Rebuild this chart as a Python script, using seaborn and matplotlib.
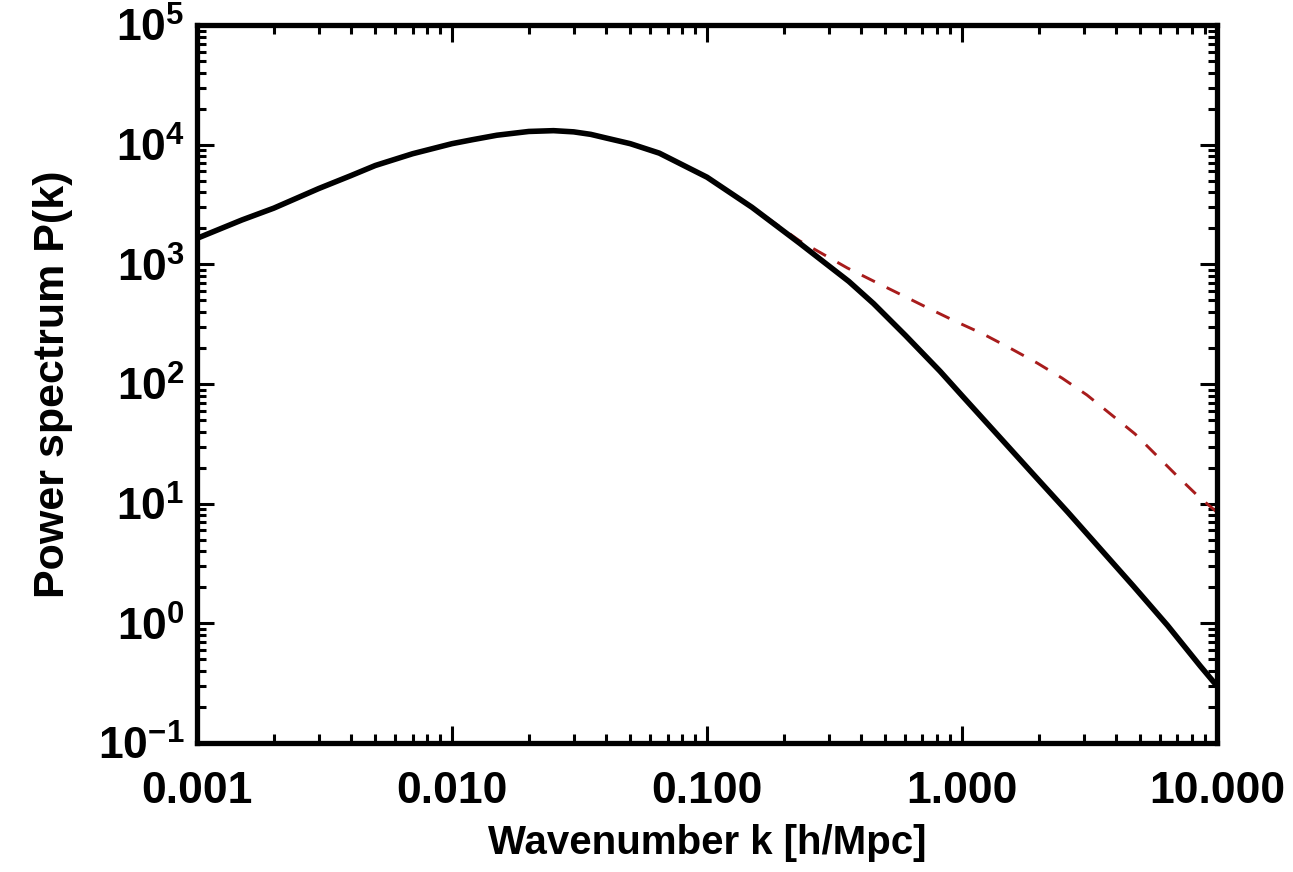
import numpy as np
import pandas as pd
import matplotlib
matplotlib.use("Agg")
import matplotlib.pyplot as plt
import matplotlib.ticker as mticker
import seaborn as sns

# ---- data (k in h/Mpc, P(k)) ----
k_linear = [0.001, 0.0015, 0.002, 0.003, 0.004, 0.005, 0.007, 0.01, 0.012, 0.015,
            0.02, 0.025, 0.03, 0.035, 0.04, 0.05, 0.065, 0.08, 0.1, 0.15,
            0.23, 0.36, 0.45, 0.6, 0.82, 1.0, 1.4, 1.9, 2.6, 3.5,
            4.7, 6.4, 8.6, 10.0]
p_linear = [1650, 2350, 2950, 4300, 5500, 6700, 8400, 10200, 11000, 12000,
            12900, 13100, 12800, 12200, 11400, 10200, 8500, 6800, 5350, 3000,
            1510, 720, 470, 255, 128, 80, 36.3, 17.7, 8.5, 4.16,
            2.05, 0.96, 0.44, 0.30]

k_nonlinear = [0.001, 0.0015, 0.002, 0.003, 0.004, 0.005, 0.007, 0.01, 0.012, 0.015,
               0.02, 0.025, 0.03, 0.035, 0.04, 0.05, 0.065, 0.08, 0.1, 0.15,
               0.23, 0.355, 0.457, 0.58, 0.735, 0.94, 1.21, 1.54, 1.97, 2.47,
               3.09, 3.87, 4.77, 5.82, 6.97, 8.49, 10.0]
p_nonlinear = [1650, 2350, 2950, 4300, 5500, 6700, 8400, 10200, 11000, 12000,
               12900, 13100, 12800, 12200, 11400, 10200, 8500, 6800, 5350, 3020,
               1580, 933, 713, 555, 432, 335, 262, 200, 150, 112,
               81, 55, 38.3, 25.1, 17.1, 11.4, 8.5]

x_ticks = [0.001, 0.01, 0.1, 1.0, 10.0]
x_tick_labels = ["0.001", "0.010", "0.100", "1.000", "10.000"]
y_ticks = [1e-1, 1e0, 1e1, 1e2, 1e3, 1e4, 1e5]
y_tick_labels = [r"$\mathregular{10^{-1}}$", r"$\mathregular{10^{0}}$", r"$\mathregular{10^{1}}$",
                 r"$\mathregular{10^{2}}$", r"$\mathregular{10^{3}}$", r"$\mathregular{10^{4}}$",
                 r"$\mathregular{10^{5}}$"]

sns.set_theme(style="white")
plt.rcParams["font.family"] = ["Liberation Sans", "DejaVu Sans"]
plt.rcParams["font.weight"] = "bold"
plt.rcParams["text.color"] = "black"
plt.rcParams["axes.labelcolor"] = "black"
plt.rcParams["xtick.color"] = "black"
plt.rcParams["ytick.color"] = "black"
plt.rcParams["mathtext.fontset"] = "custom"
plt.rcParams["mathtext.rm"] = "Liberation Sans:bold"
plt.rcParams["mathtext.it"] = "Liberation Sans:bold"
plt.rcParams["mathtext.bf"] = "Liberation Sans:bold"

df_lin = pd.DataFrame({"k": k_linear, "P": p_linear})
df_nl = pd.DataFrame({"k": k_nonlinear, "P": p_nonlinear})

fig = plt.figure(figsize=(12.93, 8.72), dpi=100)
ax = fig.add_axes([0.1524, 0.1479, 0.7888, 0.8234])

sns.lineplot(data=df_nl, x="k", y="P", ax=ax, color="#a81c1c", lw=2.1,
             linestyle=(0, (5, 4.5)), estimator=None, sort=False)
sns.lineplot(data=df_lin, x="k", y="P", ax=ax, color="black", lw=4.0,
             estimator=None, sort=False)

ax.set_xscale("log")
ax.set_yscale("log")
ax.set_xlim(0.001, 10.0)
ax.set_ylim(1e-1, 1e5)

ax.set_xticks(x_ticks)
ax.set_xticklabels(x_tick_labels)
ax.set_yticks(y_ticks)
ax.set_yticklabels(y_tick_labels)
ax.xaxis.set_minor_locator(mticker.LogLocator(base=10, subs=np.arange(2, 10), numticks=20))
ax.yaxis.set_minor_locator(mticker.LogLocator(base=10, subs=np.arange(2, 10), numticks=20))
ax.xaxis.set_minor_formatter(mticker.NullFormatter())
ax.yaxis.set_minor_formatter(mticker.NullFormatter())

ax.tick_params(which="both", direction="in", top=True, right=True, bottom=True, left=True,
               color="black", width=2.2, labelcolor="black")
ax.tick_params(which="major", length=12)
ax.tick_params(which="minor", length=6.5)
ax.tick_params(axis="x", which="major", labelsize=32, pad=20)
ax.tick_params(axis="y", which="major", labelsize=32, pad=9)

for spine in ax.spines.values():
    spine.set_visible(True)
    spine.set_color("black")
    spine.set_linewidth(3.8)

ax.set_xlabel("Wavenumber k [h/Mpc]", fontsize=29, fontweight="bold", labelpad=9, color="black")
ax.set_ylabel("Power spectrum P(k)", fontsize=31, fontweight="bold", labelpad=18, color="black")
ax.grid(False)

fig.savefig("out.png", dpi=100, facecolor="white")
